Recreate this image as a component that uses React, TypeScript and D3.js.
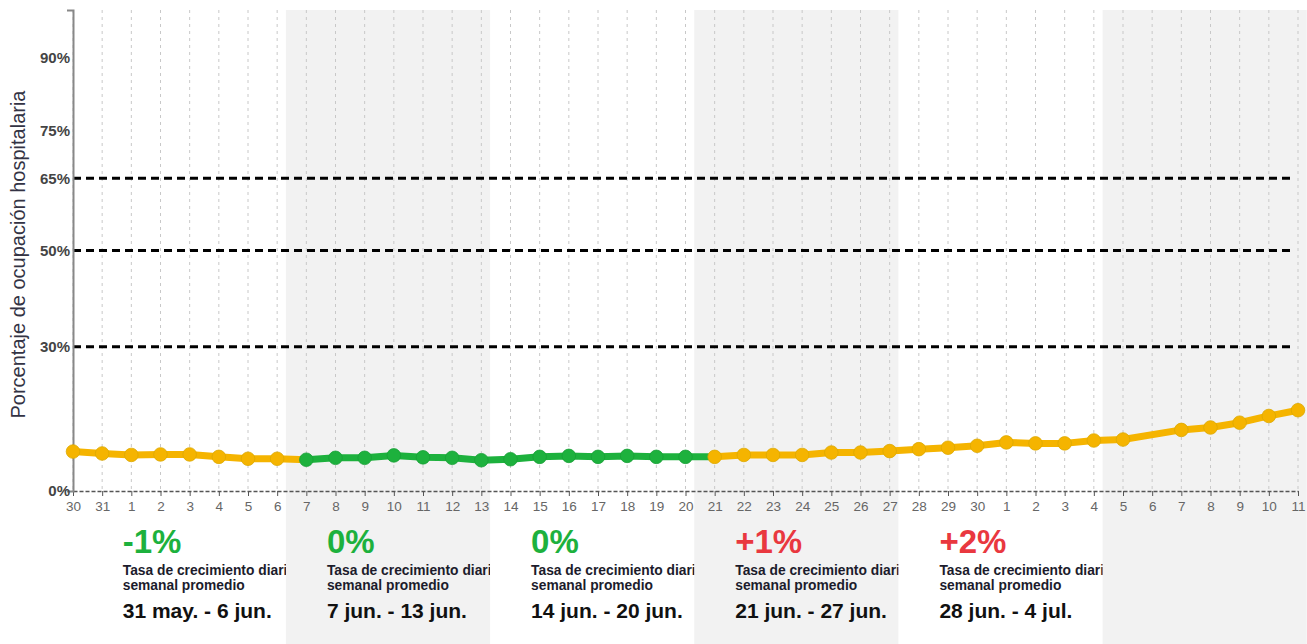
import { useEffect, useRef } from 'react';
import * as d3 from 'd3';

// daily labels, 30 may -> 11 jul
const dayLabels = [
  '30', '31',
  '1', '2', '3', '4', '5', '6', '7', '8', '9', '10', '11', '12', '13', '14', '15',
  '16', '17', '18', '19', '20', '21', '22', '23', '24', '25', '26', '27', '28', '29', '30',
  '1', '2', '3', '4', '5', '6', '7', '8', '9', '10', '11',
];

// % occupancy (null = no report that day)
const occupancy = [
  8.2, 7.8, 7.5, 7.6, 7.6, 7.1, 6.7, 6.7,
  6.5, 6.9, 6.9, 7.4, 7.0, 6.9, 6.4,
  6.6, 7.1, 7.3, 7.1, 7.3, 7.1, 7.1,
  7.1, 7.5, 7.5, 7.5, 8.0, 8.0, 8.3,
  8.7, 9.0, 9.4, 10.1, 9.9, 9.9, 10.5,
  10.7, null, 12.7, 13.2, 14.2, 15.6, 16.8,
];

const yTicks = [0, 30, 50, 65, 75, 90];
const thresholds = [30, 50, 65];

const weekRates = ['-1%', '0%', '0%', '+1%', '+2%'];
const weekRanges = [
  '31 may. - 6 jun.',
  '7 jun. - 13 jun.',
  '14 jun. - 20 jun.',
  '21 jun. - 27 jun.',
  '28 jun. - 4 jul.',
];
// index of first / last day drawn in green
const greenFrom = 8;
const greenTo = 21;

const ORANGE = '#f5b400';
const GREEN = '#1db13d';
const RED = '#e9383f';
const FONT = '"Liberation Sans", Arial, sans-serif';

const W = 1307;
const H = 644;

export default function App() {
  const xAxisRef = useRef<SVGGElement | null>(null);
  const yAxisRef = useRef<SVGGElement | null>(null);

  const x = d3.scaleLinear().domain([0, dayLabels.length - 1]).range([73, 1298]);
  const y = d3.scaleLinear().domain([0, 100]).range([491, 10]);

  const pts = occupancy
    .map((v, i) => ({ i, v }))
    .filter((d) => d.v !== null) as { i: number; v: number }[];
  const colorOf = (i: number) => (i >= greenFrom && i <= greenTo ? GREEN : ORANGE);

  // split line into runs colored by the starting point of each segment
  const runs: { color: string; points: { i: number; v: number }[] }[] = [];
  for (let k = 0; k < pts.length - 1; k++) {
    const c = colorOf(pts[k].i);
    const last = runs[runs.length - 1];
    if (last && last.color === c) last.points.push(pts[k + 1]);
    else runs.push({ color: c, points: [pts[k], pts[k + 1]] });
  }

  const line = d3
    .line<{ i: number; v: number }>()
    .x((d) => x(d.i))
    .y((d) => y(d.v));

  useEffect(() => {
    if (xAxisRef.current) {
      const g = d3.select(xAxisRef.current);
      g.selectAll('*').remove();
      g.call(
        d3
          .axisBottom(x)
          .tickValues(d3.range(dayLabels.length))
          .tickFormat((d) => dayLabels[d as number])
          .tickSize(5)
          .tickSizeOuter(0)
          .tickPadding(5)
      );
      g.select('.domain').attr('stroke', '#555').attr('stroke-width', 1.5).attr('stroke-dasharray', '4,2');
      g.selectAll('.tick line').attr('stroke', '#555');
      g.selectAll('.tick text')
        .attr('fill', '#666')
        .style('font-family', FONT)
        .style('font-size', '13.5px');
    }
    if (yAxisRef.current) {
      const g = d3.select(yAxisRef.current);
      g.selectAll('*').remove();
      g.call(
        d3
          .axisLeft(y)
          .tickValues(yTicks)
          .tickFormat((d) => `${d}%`)
          .tickSize(0)
          .tickSizeOuter(6)
          .tickPadding(3)
      );
      g.select('.domain').attr('stroke', '#888').attr('stroke-width', 2);
      g.selectAll('.tick text')
        .attr('fill', '#444')
        .style('font-family', FONT)
        .style('font-size', '15px')
        .style('font-weight', 'bold');
    }
  }, []);

  return (
    <svg
      width={W}
      height={H}
      style={{ position: 'absolute', left: 0, top: 0, background: '#fff' }}
    >
      <defs>
        {weekRanges.map((_, k) => (
          <clipPath id={`wk${k}`} key={k}>
            <rect x={x(7 * k + 0.3)} y={500} width={x(7) - x(0)} height={H - 500} />
          </clipPath>
        ))}
      </defs>

      {/* alternating week bands */}
      {d3.range(1, 6, 2).map((k) => (
        <rect
          key={k}
          x={x(7 * k + 0.3)}
          y={10}
          width={Math.min(x(7) - x(0), W - x(7 * k + 0.3))}
          height={H - 10}
          fill="#f2f2f2"
        />
      ))}

      {/* vertical day grid */}
      {dayLabels.map((_, i) => (
        <line
          key={i}
          x1={x(i)}
          x2={x(i)}
          y1={y(100)}
          y2={y(0)}
          stroke="#c8c8c8"
          strokeDasharray="3,4"
        />
      ))}

      {/* threshold lines */}
      {thresholds.map((t) => (
        <line
          key={t}
          x1={x(0)}
          x2={x(dayLabels.length - 1) - 6}
          y1={y(t)}
          y2={y(t)}
          stroke="#000"
          strokeWidth={3}
          strokeDasharray="8,5"
        />
      ))}

      <g ref={xAxisRef} transform={`translate(0,${y(0)})`} />
      <g ref={yAxisRef} transform={`translate(${x(0)},0)`} />

      <text
        transform={`translate(25,${(y(0) + y(100)) / 2 + 4}) rotate(-90)`}
        textAnchor="middle"
        fontFamily={FONT}
        fontSize={20}
        fill="#333344"
      >
        Porcentaje de ocupación hospitalaria
      </text>

      {/* occupancy line */}
      {runs.map((r, k) => (
        <path
          key={k}
          d={line(r.points) || ''}
          fill="none"
          stroke={r.color}
          strokeWidth={7}
          strokeLinejoin="round"
        />
      ))}
      {pts.map((d) => (
        <circle
          key={d.i}
          cx={x(d.i)}
          cy={y(d.v)}
          r={6.8}
          fill={colorOf(d.i)}
          stroke={colorOf(d.i) === GREEN ? '#18a036' : '#dca800'}
          strokeWidth={0.8}
        />
      ))}

      {/* weekly summaries */}
      {weekRanges.map((range, k) => {
        const left = x(7 * k + 0.3) + 41;
        const rate = weekRates[k];
        return (
          <g key={k} fontFamily={FONT} fontWeight="bold" clipPath={`url(#wk${k})`}>
            <text x={left} y={553} fontSize={33} fill={rate.startsWith('+') ? RED : GREEN}>
              {rate}
            </text>
            <text x={left} y={575} fontSize={13.8} fill="#1c1c2c">
              Tasa de crecimiento diario
            </text>
            <text x={left} y={590} fontSize={13.8} fill="#1c1c2c">
              semanal promedio
            </text>
            <text x={left} y={618} fontSize={21} fill="#111">
              {range}
            </text>
          </g>
        );
      })}
    </svg>
  );
}
